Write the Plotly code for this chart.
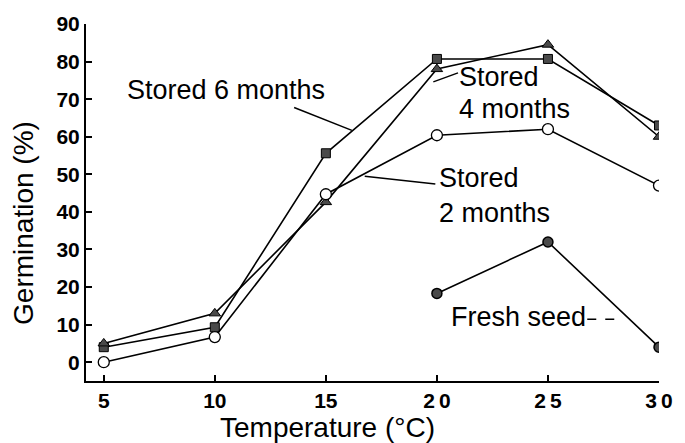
import plotly.graph_objects as go

# ---- data ----
temps = [5, 10, 15, 20, 25, 30]
stored_6_months = [4, 9.3, 55.6, 80.7, 80.7, 63]
stored_4_months = [5, 13, 42.6, 78, 84.5, 60]
stored_2_months = [0, 6.7, 44.7, 60.4, 62, 47]
fresh_temps = [20, 25, 30]
fresh_seed = [18.3, 32, 4]

x_tick_vals = [5, 10, 15, 20, 25, 30]
x_tick_text = ["5", "10", "15", "2\u20090", "2\u20095", "3\u20090"]
y_tick_vals = [0, 10, 20, 30, 40, 50, 60, 70, 80, 90]

FONT = "Liberation Sans, Arial, sans-serif"
DARK = "#4a4a4a"

fig = go.Figure()

fig.add_trace(go.Scatter(
    x=temps, y=stored_6_months, mode="lines+markers", name="Stored 6 months",
    line=dict(color="black", width=1.6),
    marker=dict(symbol="square", size=9, color=DARK, line=dict(color="black", width=1))))
fig.add_trace(go.Scatter(
    x=temps, y=stored_4_months, mode="lines+markers", name="Stored 4 months",
    line=dict(color="black", width=1.6),
    marker=dict(symbol="triangle-up", size=10, color=DARK, line=dict(color="black", width=1))))
fig.add_trace(go.Scatter(
    x=temps, y=stored_2_months, mode="lines+markers", name="Stored 2 months",
    line=dict(color="black", width=1.6),
    marker=dict(symbol="circle", size=11, color="white", line=dict(color="black", width=1.3))))
fig.add_trace(go.Scatter(
    x=fresh_temps, y=fresh_seed, mode="lines+markers", name="Fresh seed",
    line=dict(color="black", width=1.6),
    marker=dict(symbol="circle", size=10, color=DARK, line=dict(color="black", width=1.5))))

lab_font = dict(family=FONT, size=27, color="black")

def label(x, y, text):
    fig.add_annotation(x=x, y=y, xref="x", yref="y", text=text, showarrow=False,
                       xanchor="left", yanchor="middle", font=lab_font)

label(5.95, 72.5, "Stored 6 months")
label(20.9, 76.0, "Stored")
label(20.9, 67.5, "4 months")
label(20.0, 48.9, "Stored")
label(20.0, 39.6, "2 months")
label(20.55, 11.9, "Fresh seed")

# leader lines
leaders = [
    ((13.57, 67.8), (16.17, 61.7), "solid"),
    ((19.84, 74.6), (20.95, 77.0), "solid"),
    ((16.75, 49.5), (19.93, 47.4), "solid"),
    ((26.77, 11.4), (28.36, 11.4), "dash"),
]
for (x0, y0), (x1, y1), dash in leaders:
    fig.add_shape(type="line", xref="x", yref="y", x0=x0, y0=y0, x1=x1, y1=y1,
                  line=dict(color="black", width=1.5, dash=dash))

# axis titles
fig.add_annotation(x=0.421, y=-0.131, xref="paper", yref="paper",
                   text="Temperature (°C)", showarrow=False,
                   xanchor="center", yanchor="middle", borderpad=0,
                   font=dict(family=FONT, size=28, color="black"))
fig.add_annotation(x=-0.108, y=0.443, xref="paper", yref="paper",
                   text="Germination (%)", showarrow=False, textangle=-90,
                   xanchor="center", yanchor="middle",
                   font=dict(family=FONT, size=28, color="black"))

fig.update_layout(
    width=685, height=443,
    margin=dict(l=86, r=15, t=22, b=62),
    paper_bgcolor="white", plot_bgcolor="white",
    showlegend=False,
    xaxis=dict(range=[4.2, 30], tickvals=x_tick_vals, ticktext=x_tick_text,
               showline=True, linecolor="black", linewidth=2,
               ticks="inside", ticklen=6, tickwidth=1.5, tickcolor="black",
               showgrid=False, zeroline=False,
               tickfont=dict(family=FONT, size=21, color="black", weight="bold")),
    yaxis=dict(range=[-5, 90], tickvals=y_tick_vals,
               showline=True, linecolor="black", linewidth=2,
               ticks="inside", ticklen=6, tickwidth=1.5, tickcolor="black",
               showgrid=False, zeroline=False, ticklabelstandoff=0,
               tickfont=dict(family=FONT, size=21, color="black", weight="bold")),
)

# remove the default page margin so the figure sits at the window's top-left corner
fig.write_html("out.html",
               config={"displayModeBar": False},
               post_script="document.body.style.margin='0';document.body.style.overflow='hidden';")
